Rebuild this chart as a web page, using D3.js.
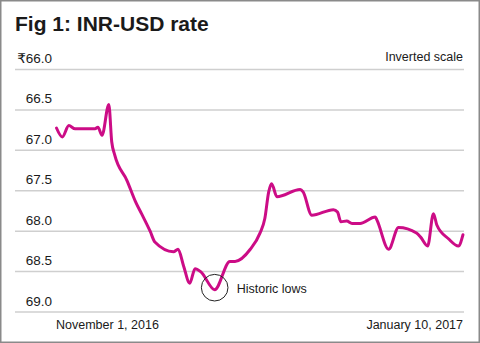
<!DOCTYPE html>
<html>
<head>
<meta charset="utf-8">
<script src="https://cdn.jsdelivr.net/npm/d3@7"></script>
<style>
  html, body { margin: 0; padding: 0; background: #fff; }
  svg { display: block; }
  text { font-family: "Liberation Sans", Arial, "DejaVu Sans", sans-serif; fill: #1a1a1a; }
</style>
</head>
<body>
<script>
// ---- data ----
const dates = [
  "2016-11-01T02","2016-11-02T02","2016-11-03T05","2016-11-04T07","2016-11-07T17",
  "2016-11-08T05","2016-11-08T22","2016-11-10T02","2016-11-10T14","2016-11-11T02",
  "2016-11-13T05","2016-11-14T19","2016-11-15T17","2016-11-17T05","2016-11-18T00",
  "2016-11-21T05","2016-11-22T00","2016-11-22T22","2016-11-24T00","2016-11-24T22",
  "2016-11-25T22","2016-11-28T07","2016-11-30T22","2016-12-01T19","2016-12-04T10",
  "2016-12-06T02","2016-12-06T22","2016-12-07T14","2016-12-08T02","2016-12-09T00",
  "2016-12-13T00","2016-12-13T12","2016-12-15T00","2016-12-18T17","2016-12-19T10",
  "2016-12-20T00","2016-12-21T00","2016-12-21T22","2016-12-23T07","2016-12-25T22",
  "2016-12-26T05","2016-12-28T05","2016-12-29T22","2017-01-02T00","2017-01-02T17",
  "2017-01-03T22","2017-01-04T22","2017-01-05T12","2017-01-07T12","2017-01-09T05",
  "2017-01-10T00"
];
const rates = [
  66.73, 66.84, 66.70, 66.74, 66.74,
  66.72, 66.82, 66.44, 66.90, 67.06,
  67.38, 67.66, 67.79, 68.01, 68.14,
  68.26, 68.23, 68.43, 68.65, 68.47,
  68.51, 68.73, 68.38, 68.38, 68.23,
  68.03, 67.85, 67.52, 67.42, 67.58,
  67.49, 67.52, 67.81, 67.74, 67.77,
  67.89, 67.88, 67.91, 67.91, 67.83,
  67.87, 68.23, 67.96, 68.03, 68.08,
  68.19, 67.79, 67.93, 68.10, 68.19,
  68.05
];
const yTicks = [66.0, 66.5, 67.0, 67.5, 68.0, 68.5, 69.0];
const xDomain = ["2016-11-01T00", "2017-01-10T00"];
const xLabels = ["November 1, 2016", "January 10, 2017"];
const title = "Fig 1: INR-USD rate";
const scaleNote = "Inverted scale";
const annotation = { date: "2016-11-28T07", rate: 68.73, text: "Historic lows" };

// ---- drawing ----
const W = 480, H = 343;
const parse = d3.timeParse("%Y-%m-%dT%H");
const svg = d3.select("body").append("svg").attr("width", W).attr("height", H);

svg.append("rect").attr("x", 0.75).attr("y", 0.75).attr("width", W - 1.5).attr("height", H - 1.5)
  .attr("fill", "#fff").attr("stroke", "#8a8a8a").attr("stroke-width", 1.5);

const x = d3.scaleTime().domain(xDomain.map(parse)).range([56, 463]);
const y = d3.scaleLinear().domain([66, 69]).range([69, 311.5]); // inverted scale

// gridlines
const gridAxis = d3.axisRight(y).tickValues(yTicks).tickSize(449).tickFormat("");
const g = svg.append("g").attr("transform", "translate(15,0)").call(gridAxis);
g.select(".domain").remove();
g.selectAll(".tick line").attr("stroke", "#cfcfcf").attr("stroke-width", 1.5);

// y tick labels
svg.append("g").selectAll("text").data(yTicks).join("text")
  .attr("x", 52).attr("y", d => y(d) - 6)
  .attr("text-anchor", "end").attr("font-size", 13.5)
  .text((d, i) => (i === 0 ? "₹" : "") + d3.format(".1f")(d));

// title and note
svg.append("text").attr("x", 15).attr("y", 31).attr("font-size", 21).attr("font-weight", "bold")
  .attr("fill", "#111").text(title);
svg.append("text").attr("x", 463).attr("y", 61).attr("text-anchor", "end").attr("font-size", 12.5)
  .text(scaleNote);

// x labels
svg.append("text").attr("x", x(parse(xDomain[0]))).attr("y", 329).attr("font-size", 12.5).text(xLabels[0]);
svg.append("text").attr("x", x(parse(xDomain[1]))).attr("y", 329).attr("text-anchor", "end")
  .attr("font-size", 12.5).text(xLabels[1]);

// line
const data = dates.map((d, i) => ({ date: parse(d), v: rates[i] }));
const line = d3.line().x(d => x(d.date)).y(d => y(d.v)).curve(d3.curveMonotoneX);
svg.append("path").datum(data).attr("d", line)
  .attr("fill", "none").attr("stroke", "#cc0c86").attr("stroke-width", 3)
  .attr("stroke-linejoin", "round").attr("stroke-linecap", "round");

// annotation
const ax = x(parse(annotation.date)), ay = y(annotation.rate);
svg.append("circle").attr("cx", ax).attr("cy", ay - 2).attr("r", 13.3)
  .attr("fill", "none").attr("stroke", "#222").attr("stroke-width", 1);
svg.append("text").attr("x", ax + 22).attr("y", ay + 3).attr("font-size", 12.5).text(annotation.text);
</script>
</body>
</html>
